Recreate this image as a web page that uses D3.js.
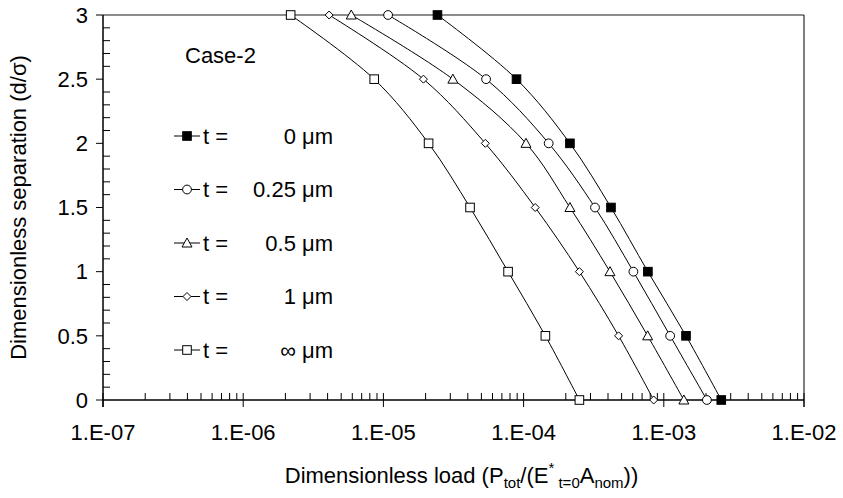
<!DOCTYPE html>
<html>
<head>
<meta charset="utf-8">
<script src="https://cdn.jsdelivr.net/npm/d3@7"></script>
<style>
  html, body { margin: 0; padding: 0; background: #fff; }
  svg { display: block; font-family: "Liberation Sans", Arial, Helvetica, sans-serif; }
</style>
</head>
<body>
<svg id="chart" width="843" height="498"></svg>
<script>
// Separation levels shared by every curve
const separation = [3, 2.5, 2, 1.5, 1, 0.5, 0];

// Dimensionless load for each coating thickness t
const load_t0    = [2.43e-5, 8.9e-5, 2.14e-4, 4.2e-4, 7.7e-4, 1.44e-3, 2.57e-3];
const load_t025  = [1.08e-5, 5.4e-5, 1.51e-4, 3.23e-4, 6.07e-4, 1.11e-3, 2.03e-3];
const load_t05   = [5.9e-6, 3.13e-5, 1.04e-4, 2.14e-4, 4.13e-4, 7.67e-4, 1.39e-3];
const load_t1    = [4.1e-6, 1.93e-5, 5.33e-5, 1.21e-4, 2.5e-4, 4.76e-4, 8.47e-4];
const load_tinf  = [2.18e-6, 8.6e-6, 2.1e-5, 4.15e-5, 7.75e-5, 1.43e-4, 2.5e-4];

const seriesNames  = ["0 \u03bcm", "0.25 \u03bcm", "0.5 \u03bcm", "1 \u03bcm", "\u221e \u03bcm"];
const seriesMarker = ["fsquare", "circle", "triangle", "diamond", "square"];
const seriesLoads  = [load_t0, load_t025, load_t05, load_t1, load_tinf];

const xTickValues = [1e-7, 1e-6, 1e-5, 1e-4, 1e-3, 1e-2];
const xTickLabels = ["1.E-07", "1.E-06", "1.E-05", "1.E-04", "1.E-03", "1.E-02"];
const yTickValues = [0, 0.5, 1, 1.5, 2, 2.5, 3];
const yTickLabels = ["0", "0.5", "1", "1.5", "2", "2.5", "3"];

const svg = d3.select("#chart");
const L = 103, R = 804, T = 15, B = 400;

const x = d3.scaleLog().domain([1e-7, 1e-2]).range([L, R]);
const y = d3.scaleLinear().domain([0, 3]).range([B, T]);

const FS = 22;

// plot frame
svg.append("line").attr("x1", L).attr("x2", R).attr("y1", T).attr("y2", T)
  .attr("stroke", "#666").attr("stroke-width", 1.5);
svg.append("line").attr("x1", R).attr("x2", R).attr("y1", T).attr("y2", B + 7)
  .attr("stroke", "#000").attr("stroke-width", 1);

// x axis: decade ticks cross the axis line, minor ticks point inward
const xAxis = svg.append("g");
xAxis.append("line").attr("x1", L).attr("x2", R).attr("y1", B).attr("y2", B)
  .attr("stroke", "#000").attr("stroke-width", 1.5);
const minorX = [];
for (let e = -7; e < -2; e++) for (let m = 2; m <= 9; m++) minorX.push(m * Math.pow(10, e));
xAxis.selectAll("line.minor").data(minorX).join("line").attr("class", "minor")
  .attr("x1", d => x(d)).attr("x2", d => x(d)).attr("y1", B).attr("y2", B - 7)
  .attr("stroke", "#000").attr("stroke-width", 1);
xAxis.selectAll("line.major").data(xTickValues).join("line").attr("class", "major")
  .attr("x1", d => x(d)).attr("x2", d => x(d)).attr("y1", B - 7).attr("y2", B + 7)
  .attr("stroke", "#000").attr("stroke-width", 1);
xAxis.selectAll("text").data(xTickValues).join("text")
  .attr("x", d => x(d)).attr("y", 440)
  .attr("text-anchor", "middle").attr("font-size", FS).attr("fill", "#000")
  .text((d, i) => xTickLabels[i]);

// y axis: major ticks outward, minor ticks inward
const yAxis = svg.append("g");
yAxis.append("line").attr("x1", L).attr("x2", L).attr("y1", T).attr("y2", B + 7)
  .attr("stroke", "#000").attr("stroke-width", 1.5);
const minorY = d3.range(0, 31).map(i => i / 10).filter(v => Math.round(v * 10) % 5 !== 0);
yAxis.selectAll("line.minor").data(minorY).join("line").attr("class", "minor")
  .attr("x1", L).attr("x2", L + 7).attr("y1", d => y(d)).attr("y2", d => y(d))
  .attr("stroke", "#000").attr("stroke-width", 1);
yAxis.selectAll("line.major").data(yTickValues).join("line").attr("class", "major")
  .attr("x1", L - 7).attr("x2", L).attr("y1", d => y(d)).attr("y2", d => y(d))
  .attr("stroke", "#000").attr("stroke-width", 1);
yAxis.selectAll("text").data(yTickValues).join("text")
  .attr("x", L - 15).attr("y", d => y(d)).attr("dy", "0.35em")
  .attr("text-anchor", "end").attr("font-size", FS).attr("fill", "#000")
  .text((d, i) => yTickLabels[i]);

// axis titles
svg.append("text")
  .attr("transform", `translate(26, ${(T + B) / 2}) rotate(-90)`)
  .attr("text-anchor", "middle").attr("font-size", FS).attr("fill", "#000")
  .text("Dimensionless separation (d/\u03c3)");

const xt = svg.append("text").attr("x", (L + R) / 2 + 8).attr("y", 483)
  .attr("text-anchor", "middle").attr("font-size", FS).attr("fill", "#000");
xt.append("tspan").text("Dimensionless load (P");
xt.append("tspan").attr("font-size", 15).attr("dy", 5).text("tot");
xt.append("tspan").attr("dy", -5).text("/(E");
xt.append("tspan").attr("font-size", 15).attr("dy", -10).text("*");
xt.append("tspan").attr("font-size", 15).attr("dy", 15).text(" t=0");
xt.append("tspan").attr("dy", -5).text("A");
xt.append("tspan").attr("font-size", 15).attr("dy", 5).text("nom");
xt.append("tspan").attr("dy", -5).text("))");

// marker drawing
function drawMarker(g, type, cx, cy) {
  const s = 4.3;
  if (type === "fsquare" || type === "square") {
    g.append("rect").attr("x", cx - s).attr("y", cy - s).attr("width", 2 * s).attr("height", 2 * s)
      .attr("fill", type === "fsquare" ? "#000" : "#fff").attr("stroke", "#000").attr("stroke-width", 1);
  } else if (type === "circle") {
    g.append("circle").attr("cx", cx).attr("cy", cy).attr("r", 4.4)
      .attr("fill", "#fff").attr("stroke", "#000").attr("stroke-width", 1);
  } else if (type === "triangle") {
    g.append("path").attr("d", `M${cx},${cy - 5}L${cx + 5},${cy + 4}L${cx - 5},${cy + 4}Z`)
      .attr("fill", "#fff").attr("stroke", "#000").attr("stroke-width", 1);
  } else if (type === "diamond") {
    g.append("path").attr("d", `M${cx},${cy - 4}L${cx + 4},${cy}L${cx},${cy + 4}L${cx - 4},${cy}Z`)
      .attr("fill", "#fff").attr("stroke", "#000").attr("stroke-width", 1);
  }
}

// smoothed curves
const line = d3.line().x(d => x(d[0])).y(d => y(d[1])).curve(d3.curveCatmullRom.alpha(0.5));
const plot = svg.append("g");
seriesLoads.forEach((loads, i) => {
  const pts = loads.map((v, j) => [v, separation[j]]);
  plot.append("path").datum(pts).attr("d", line)
    .attr("fill", "none").attr("stroke", "#000").attr("stroke-width", 1);
});
seriesLoads.forEach((loads, i) => {
  const g = plot.append("g");
  loads.forEach((v, j) => drawMarker(g, seriesMarker[i], x(v), y(separation[j])));
});

// annotation and legend
svg.append("text").attr("x", 185).attr("y", 63).attr("font-size", FS).attr("fill", "#000").text("Case-2");

const legendY = [136, 189.5, 243, 296.5, 350];
seriesNames.forEach((name, i) => {
  const g = svg.append("g");
  const cy = legendY[i];
  g.append("line").attr("x1", 174).attr("x2", 200).attr("y1", cy).attr("y2", cy)
    .attr("stroke", "#000").attr("stroke-width", 1);
  drawMarker(g, seriesMarker[i], 187, cy);
  g.append("text").attr("x", 203).attr("y", cy).attr("dy", "0.35em")
    .attr("font-size", FS).attr("fill", "#000").text("t =");
  g.append("text").attr("x", 333).attr("y", cy).attr("dy", "0.35em")
    .attr("text-anchor", "end").attr("font-size", FS).attr("fill", "#000").text(name);
});
</script>
</body>
</html>
